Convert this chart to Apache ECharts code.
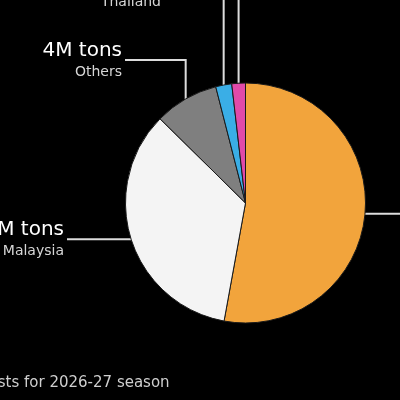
<!DOCTYPE html>
<html>
<head>
<meta charset="utf-8">
<script src="https://cdn.jsdelivr.net/npm/echarts@6/dist/echarts.min.js"></script>
<style>
  html, body { margin: 0; padding: 0; background: #000; }
  #chartWrap { width: 400px; height: 400px; }
</style>
</head>
<body>
<div id="chartWrap"></div>
<script>
// slices, clockwise from 12 o'clock
var countries = ['Indonesia', 'Malaysia', 'Others', 'Thailand', 'Colombia'];
var output = [24.5, 16, 4, 1, 0.85]; // million tons
var valueLabels = ['25M tons', '16M tons', '4M tons', '1M tons', '1M tons'];
var sliceColors = ['#f2a43c', '#f4f4f4', '#7f7f7f', '#3aaee6', '#e14aa9'];
var footnote = 'Forecasts for 2026-27 season';

var chart = echarts.init(document.getElementById('chartWrap'));

// bend the leader lines the way the original does (vertical, then horizontal)
function leader(p) {
  var s = p.labelLinePoints[0]; // edge of slice at its mid angle
  switch (p.dataIndex) {
    case 0:
      return { x: 430, y: s[1] - 20, align: 'left', verticalAlign: 'top',
        labelLinePoints: [s, [s[0] + 20, s[1]], [426, s[1]]] };
    case 1:
      return { x: 64, y: s[1] - 20, align: 'right', verticalAlign: 'top',
        labelLinePoints: [s, [s[0] - 10, s[1]], [67, s[1]]] };
    case 2:
      return { x: 122, y: 40, align: 'right', verticalAlign: 'top',
        labelLinePoints: [s, [s[0], 60], [125, 60]] };
    case 3:
      return { x: 161, y: -30, align: 'right', verticalAlign: 'top',
        labelLinePoints: [s, [s[0], -10], [164, -10]] };
    default:
      return { x: s[0], y: -140, align: 'center', verticalAlign: 'top',
        labelLinePoints: [s, [s[0], -60], [s[0], -100]] };
  }
}

chart.setOption({
  backgroundColor: '#000',
  animation: false,
  graphic: [{
    type: 'text',
    x: -52,
    y: 376,
    style: { text: footnote, fill: '#cfcfcf', font: '15px "DejaVu Sans"' }
  }],
  series: [{
    type: 'pie',
    center: [245.5, 203],
    radius: 120,
    startAngle: 90,
    clockwise: true,
    avoidLabelOverlap: false,
    emphasis: { disabled: true },
    itemStyle: { borderColor: '#1a1a1a', borderWidth: 1 },
    label: {
      show: true,
      position: 'outside',
      fontFamily: 'DejaVu Sans',
      formatter: function (p) {
        return '{v|' + valueLabels[p.dataIndex] + '}\n{n|' + p.name + '}';
      },
      rich: {
        v: { fontSize: 20, color: '#fff', lineHeight: 22, fontFamily: 'DejaVu Sans', align: 'right' },
        n: { fontSize: 14, color: '#d6d6d6', lineHeight: 20, fontFamily: 'DejaVu Sans', align: 'right' }
      }
    },
    labelLine: { show: true, smooth: false, lineStyle: { color: '#dcdcdc', width: 2 } },
    labelLayout: leader,
    data: countries.map(function (c, i) {
      return { name: c, value: output[i], itemStyle: { color: sliceColors[i] } };
    })
  }]
});
</script>
</body>
</html>
